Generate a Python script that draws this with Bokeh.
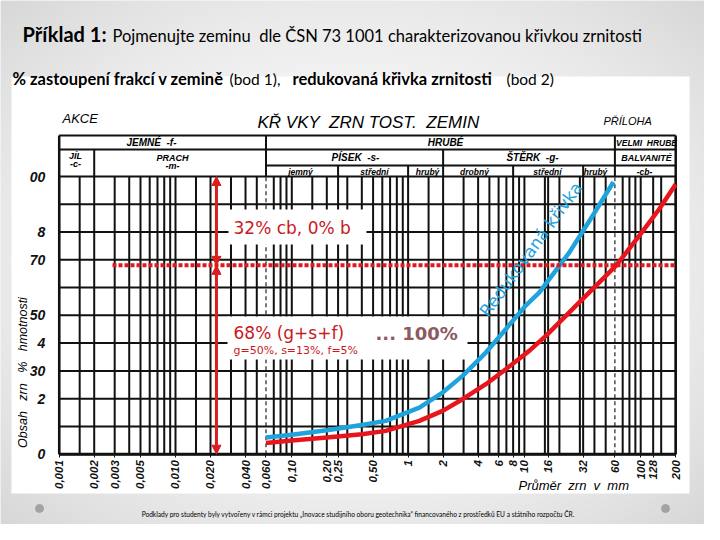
import math
import numpy as np
from bokeh.plotting import figure
from bokeh.models import (Range1d, LogAxis, LinearAxis, FixedTicker, Label,
                          Arrow, NormalHead)
from bokeh.embed import file_html
from bokeh.resources import INLINE

# ---------------- data ----------------
# grain-size curve (mm, % passing) - measured curve (red)
red_mm = [0.06, 0.1, 0.2, 0.4, 0.642, 1.25, 1.98, 2.94, 4.66, 6.92, 11.0, 15.3, 22.7, 33.7, 61.1, 97, 144, 200]
red_pct = [4.0, 4.9, 6.0, 7.2, 8.4, 12.0, 15.6, 19.8, 25.2, 30.6, 37.2, 42.6, 49.8, 57.0, 67.8, 78.6, 88.2, 97.2]
# reduced curve (blue)
blue_mm = [0.06, 0.1, 0.2, 0.4, 0.642, 1.25, 1.98, 2.94, 4.66, 6.92, 10.2, 13.4, 24.3, 38.5, 58.3]
blue_pct = [6.0, 7.0, 8.6, 10.5, 12.0, 16.8, 22.2, 28.2, 36.6, 45.0, 53.4, 58.2, 72.6, 85.8, 98.0]

fines_pct = 68          # g+s+f share
arrow_mm = 0.0225       # position of the red double arrows

x_ticks = [0.001, 0.002, 0.003, 0.005, 0.01, 0.02, 0.04, 0.06, 0.1, 0.2, 0.25, 0.5,
           1, 2, 4, 6, 8, 10, 16, 32, 60, 100, 128, 200]
x_tick_labels = ["0,001", "0,002", "0,003", "0,005", "0,010", "0,020", "0,040", "0,060",
                 "0,10", "0,20", "0,25", "0,50", "1", "2", "4", "6", "8", "10", "16",
                 "32", "60", "100", "128", "200"]
y_ticks = [0, 20, 30, 40, 50, 70, 80, 100]
y_tick_labels = ["0", "2", "30", "4", "50", "70", "8", "00"]

grid_pct = [0, 10, 20, 30, 40, 50, 60, 70, 80, 90, 100]
decades = [0.001, 0.01, 0.1, 1, 10, 100]
mantissas = [1, 1.5, 2, 3, 4, 5, 6, 7, 8, 9]
extra_lines_mm = [0.25, 16, 32, 128, 200]
dashed_lines_mm = [0.06, 60]

# ---------------- page-pixel helpers (layout only) ----------------
X0, DEC = 66.7, 116.3   # page px of 0.001 mm, px per decade
Y0, PP = 461.7, 2.777   # page px of 0 %, px per 1 %
NB = "\u00a0"


def X(px):
    return 10 ** ((px - X0) / DEC - 3)


def Y(py):
    return (Y0 - py) / PP


p = figure(width=704, height=524, x_axis_type="log",
           x_range=Range1d(X(8), X(712)), y_range=Range1d(Y(532), Y(8)),
           output_backend="svg", toolbar_location=None,
           x_axis_location=None, y_axis_location=None, min_border=0,
           outline_line_color=None, background_fill_color="#eeeeee",
           border_fill_color="#eeeeee")
p.grid.visible = False

# slide background gradient
H, W = 131, 176
yy, xx = np.mgrid[0:H, 0:W]
u = ((xx + 0.5) / W - 0.5) / 0.5
v = ((yy + 0.5) / H - 0.5) / 0.5
g = np.clip(251 - 18 * (u ** 2 + v ** 2), 0, 255).astype(np.uint8)
img = np.empty((H, W), dtype=np.uint32)
view = img.view(dtype=np.uint8).reshape((H, W, 4))
view[..., 0] = g
view[..., 1] = g
view[..., 2] = g
view[..., 3] = 255
p.image_rgba(image=[img], x=X(8), y=Y(532), dw=X(712) - X(8), dh=Y(8) - Y(532))

# white picture area
p.quad(left=[X(19)], right=[X(697)], top=[Y(84)], bottom=[Y(501)],
       fill_color="white", line_color=None)

# ---------------- grid ----------------
vlines = sorted(set([round(d * m, 6) for d in decades for m in mantissas if d * m <= 200] + extra_lines_mm))
vlines = [v_ for v_ in vlines if v_ not in dashed_lines_mm]
p.segment(x0=vlines, y0=[0] * len(vlines), x1=vlines, y1=[100] * len(vlines),
          line_color="#111111", line_width=2)
p.segment(x0=[0.001] * len(grid_pct), y0=grid_pct, x1=[200] * len(grid_pct), y1=grid_pct,
          line_color="#111111", line_width=2)
p.segment(x0=dashed_lines_mm, y0=[0, 0], x1=dashed_lines_mm, y1=[100, 100],
          line_color="#222222", line_width=1.2, line_dash="4 3")
# frame edges
p.segment(x0=[0.001, 200], y0=[0, 0], x1=[0.001, 200], y1=[Y(143), Y(143)],
          line_color="#111111", line_width=2.5)
p.segment(x0=[0.001], y0=[0], x1=[200], y1=[0], line_color="#111111", line_width=3)

# ---------------- header table ----------------
T0, T1, T2 = Y(143), Y(157), Y(173)
p.segment(x0=[0.001, 0.001, 0.06], y0=[T0, T1, T2], x1=[200, 200, 200], y1=[T0, T1, T2],
          line_color="#111111", line_width=2)
tv = [(0.06, T0), (60, T0), (0.002, T1), (2, T1), (0.25, T2), (1, T2), (8, T2), (32, T2)]
p.segment(x0=[a for a, _ in tv], y0=[b for _, b in tv], x1=[a for a, _ in tv], y1=[100] * len(tv),
          line_color="#111111", line_width=2)

# ---------------- curves ----------------
p.line(blue_mm, blue_pct, line_color="#1fa3dd", line_width=4.5, line_join="round")
p.line(red_mm, red_pct, line_color="#e8161c", line_width=4.5, line_join="round")
p.line([X(120), 200], [fines_pct, fines_pct], line_color="#e0191e", line_width=4, line_dash="4 2")

# annotation boxes
p.quad(left=[X(236), X(235)], right=[X(374), X(475)], top=[Y(217), Y(324)],
       bottom=[Y(252), Y(367)], fill_color="white", line_color=None)

# arrows
for y_a, y_b in [(fines_pct, 100), (fines_pct, 0)]:
    p.add_layout(Arrow(x_start=arrow_mm, y_start=y_a, x_end=arrow_mm, y_end=y_b,
                       line_color="#d81e1e", line_width=3,
                       start=NormalHead(size=9, fill_color="#d81e1e", line_color="#d81e1e"),
                       end=NormalHead(size=9, fill_color="#d81e1e", line_color="#d81e1e")))

# ---------------- axes ----------------
yaxis = LinearAxis(fixed_location=0.001, ticker=FixedTicker(ticks=y_ticks),
                   major_label_overrides=dict(zip(y_ticks, y_tick_labels)),
                   axis_line_color=None, major_tick_line_color=None, minor_tick_line_color=None,
                   major_label_standoff=8, major_label_text_font="Liberation Sans",
                   major_label_text_font_style="bold italic", major_label_text_font_size="14px",
                   major_label_text_color="#111111")
p.add_layout(yaxis, "left")
xaxis = LogAxis(fixed_location=0, ticker=FixedTicker(ticks=x_ticks),
                major_label_overrides=dict(zip(x_ticks, x_tick_labels)),
                axis_line_color=None, major_tick_line_color="#111111", major_tick_out=3,
                major_tick_in=0, minor_tick_line_color=None, major_label_standoff=3,
                major_label_orientation=math.pi / 2, major_label_text_font="Liberation Sans",
                major_label_text_font_style="bold italic", major_label_text_font_size="11.5px",
                major_label_text_color="#111111")
p.add_layout(xaxis, "below")


def lab(text, px, py, size, font="Lato", style="normal", color="black",
        align="left", baseline="middle", angle=0.0):
    p.add_layout(Label(x=X(px), y=Y(py), text=text, text_font=font,
                       text_font_size=f"{size}px", text_font_style=style,
                       text_color=color, text_align=align, text_baseline=baseline,
                       angle=angle))


# slide texts
lab("Příklad 1:", 30, 41, 20, style="bold")
lab(f"Pojmenujte zeminu {NB}dle ČSN 73 1001 charakterizovanou křivkou zrnitosti", 120, 43, 16.5)
lab("% zastoupení frakcí v zemině", 20, 86, 16.5, style="bold")
lab("(bod 1),", 237, 86, 15.5)
lab("redukovaná křivka zrnitosti", 300, 86, 16.5, style="bold")
lab("(bod 2)", 514, 86, 15.5)
lab("Podklady pro studenty byly vytvořeny v rámci projektu „Inovace studijního oboru geotechnika“ "
    "financovaného z prostředků EU a státního rozpočtu ČR.", 366, 521, 6.6, align="center")
p.scatter([X(47), X(673)], [Y(516), Y(516)], size=8, color="#a3a3a3")

# scanned form texts
F = "Liberation Sans"
lab("AKCE", 70, 126, 13, font=F, style="italic")
lab(f"KŘ VKY {NB}ZRN TOST. {NB}ZEMIN", 265, 130, 17, font=F, style="italic")
lab("PŘÍLOHA", 611, 128, 11, font=F, style="italic")
lab(f"JEMNÉ {NB}-f-", 159, 150, 10, font=F, style="bold italic", align="center")
lab("HRUBÉ", 453, 150, 10, font=F, style="bold italic", align="center")
lab(f"VELMI {NB}HRUBÉ", 654, 150, 8.5, font=F, style="bold italic", align="center")
lab("JÍL", 83, 163, 9, font=F, style="bold italic", align="center")
lab("-c-", 83, 171, 9, font=F, style="bold italic", align="center")
lab("PRACH", 180, 165, 9, font=F, style="bold italic", align="center")
lab("-m-", 180, 173, 9, font=F, style="bold italic", align="center")
lab(f"PÍSEK {NB}-s-", 363, 165, 10, font=F, style="bold italic", align="center")
lab(f"ŠTĚRK {NB}-g-", 540, 165, 10, font=F, style="bold italic", align="center")
lab("BALVANITÉ", 654, 165, 9, font=F, style="bold italic", align="center")
for t, xc in [("jemný", 308), ("střední", 382), ("hrubý", 435), ("drobný", 482),
              ("střední", 555), ("hrubý", 603), ("-cb-", 652)]:
    lab(t, xc, 179, 8.5, font=F, style="bold italic", align="center")
gap = " " + NB * 2
lab(gap.join(["Obsah", "zrn", "%", "hmotnosti"]), 30, 380, 12.5, font=F, style="italic",
    align="center", angle=math.pi / 2)
lab((" " + NB).join(["Průměr", "zrn", "v", "mm"]), 526, 493, 13, font=F, style="italic")

# overlay annotations
D = "DejaVu Sans"
lab("32% cb, 0% b", 241, 235, 17, font=D, color="#c8191e")
lab("68% (g+s+f)", 241, 340, 17, font=D, color="#c8191e")
lab("g=50%, s=13%, f=5%", 241, 358, 11, font=D, color="#c8191e")
lab("... 100%", 383, 341, 18, font=D, style="bold", color="#8e5a5e")
lab("Redukovaná křivka", 491, 322, 17, font=D, color="#1fa3dd", angle=math.radians(54))

open("out.html", "w").write(file_html(p, INLINE))
